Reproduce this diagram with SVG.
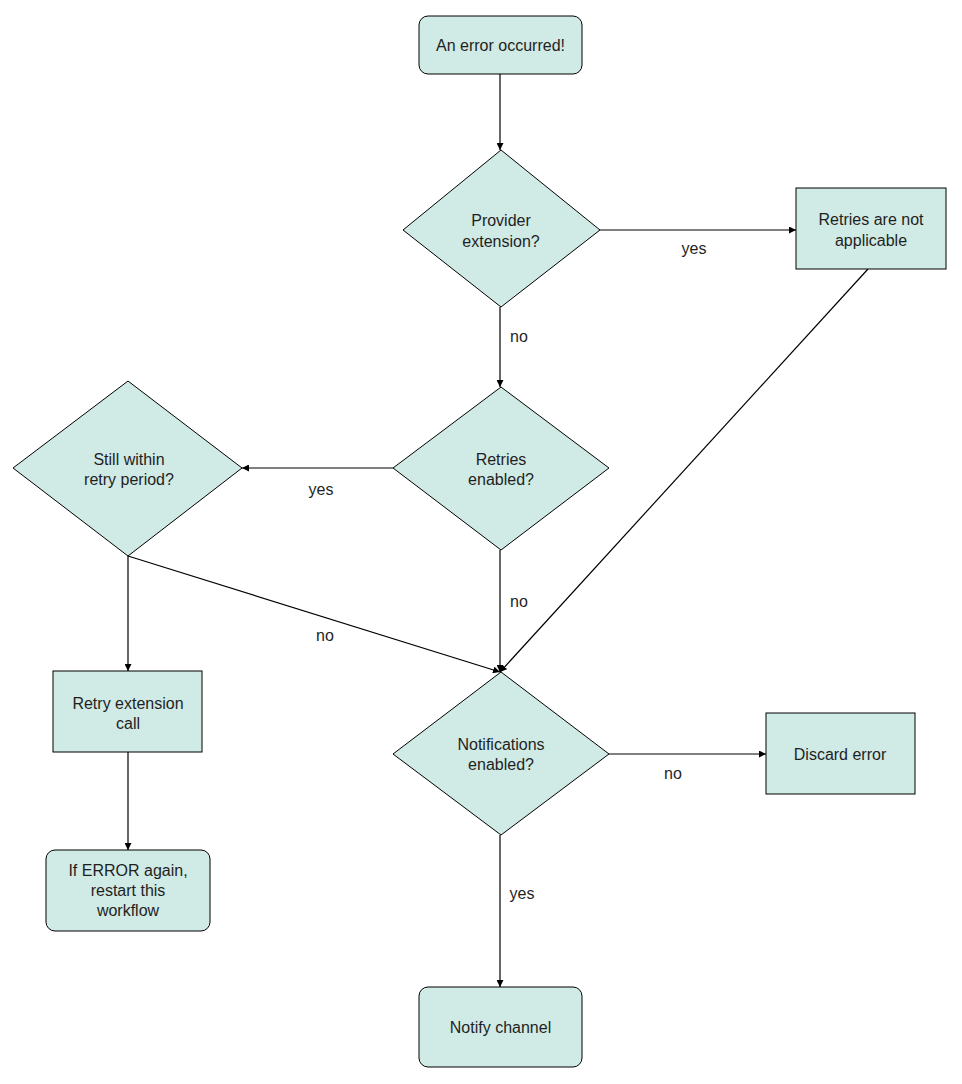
<svg xmlns="http://www.w3.org/2000/svg" width="962" height="1084" viewBox="0 0 962 1084">
<style>
.n{fill:#d0eae5;stroke:#000;stroke-width:1}
.t{font-family:"Liberation Sans",Arial,sans-serif;font-size:16px;fill:#1f1f1f;text-anchor:middle}
.c{fill:none;stroke:#000;stroke-width:1.2}
</style>
<defs>
<marker id="a" viewBox="0 0 10 10" refX="10" refY="5" markerWidth="7" markerHeight="7" markerUnits="userSpaceOnUse" orient="auto">
<path d="M0,0 L10,5 L0,10 z" fill="#000"/>
</marker>
</defs>
<rect width="962" height="1084" fill="#fff"/>
<g id="connectors">
<line class="c" x1="500" y1="74" x2="500" y2="150" marker-end="url(#a)"/>
<line class="c" x1="600" y1="230" x2="796" y2="230" marker-end="url(#a)"/>
<line class="c" x1="500" y1="307" x2="500" y2="387" marker-end="url(#a)"/>
<line class="c" x1="393" y1="468" x2="242" y2="468" marker-end="url(#a)"/>
<line class="c" x1="500" y1="550" x2="500" y2="672" marker-end="url(#a)"/>
<line class="c" x1="128" y1="556" x2="500" y2="672" marker-end="url(#a)"/>
<line class="c" x1="868" y1="269" x2="500" y2="672" marker-end="url(#a)"/>
<line class="c" x1="128" y1="556" x2="128" y2="671" marker-end="url(#a)"/>
<line class="c" x1="128" y1="752" x2="128" y2="850" marker-end="url(#a)"/>
<line class="c" x1="609" y1="754" x2="766" y2="754" marker-end="url(#a)"/>
<line class="c" x1="500" y1="835" x2="500" y2="987" marker-end="url(#a)"/>
<text class="t" x="694" y="254">yes</text>
<text class="t" x="519" y="342">no</text>
<text class="t" x="321" y="495">yes</text>
<text class="t" x="519" y="607">no</text>
<text class="t" x="325" y="641">no</text>
<text class="t" x="673" y="779">no</text>
<text class="t" x="522" y="899">yes</text>
</g>
<g id="start">
<rect class="n" x="419" y="16" width="163" height="58" rx="9"/>
<text class="t" x="500.5" y="51">An error occurred!</text>
</g>
<g id="provider">
<polygon class="n" points="501,150 600,230 501,307 403,230"/>
<text class="t" x="501" y="226">Provider</text>
<text class="t" x="501" y="247">extension?</text>
</g>
<g id="notapplicable">
<rect class="n" x="796" y="188" width="150" height="81"/>
<text class="t" x="871" y="225">Retries are not</text>
<text class="t" x="871" y="246">applicable</text>
</g>
<g id="retriesenabled">
<polygon class="n" points="501,387 609,468 501,550 393,468"/>
<text class="t" x="501" y="465">Retries</text>
<text class="t" x="501" y="485">enabled?</text>
</g>
<g id="withinperiod">
<polygon class="n" points="128,381 242,468 128,556 13,468"/>
<text class="t" x="129" y="465">Still within</text>
<text class="t" x="129" y="485">retry period?</text>
</g>
<g id="retrycall">
<rect class="n" x="53" y="671" width="149" height="81"/>
<text class="t" x="128" y="709">Retry extension</text>
<text class="t" x="128" y="729">call</text>
</g>
<g id="erroragain">
<rect class="n" x="46" y="850" width="164" height="81" rx="9"/>
<text class="t" x="128" y="876">If ERROR again,</text>
<text class="t" x="128" y="896">restart this</text>
<text class="t" x="128" y="916">workflow</text>
</g>
<g id="notifications">
<polygon class="n" points="501,672 609,754 501,835 393,754"/>
<text class="t" x="501" y="750">Notifications</text>
<text class="t" x="501" y="770">enabled?</text>
</g>
<g id="discard">
<rect class="n" x="766" y="713" width="149" height="81"/>
<text class="t" x="840" y="760">Discard error</text>
</g>
<g id="notify">
<rect class="n" x="419" y="987" width="163" height="80" rx="9"/>
<text class="t" x="500.5" y="1033">Notify channel</text>
</g>
</svg>
